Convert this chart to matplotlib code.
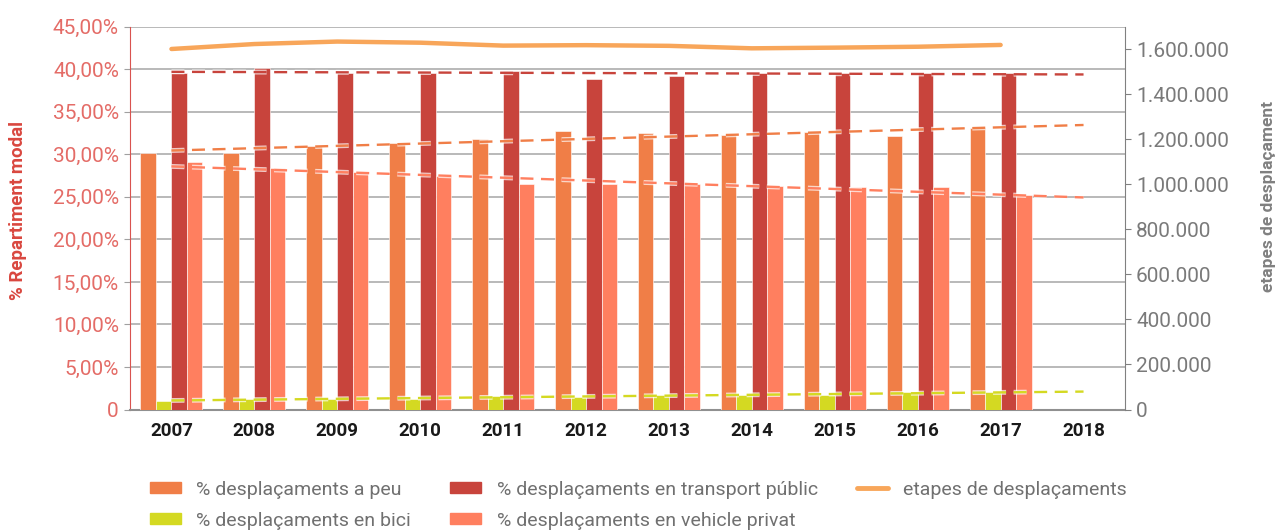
import numpy as np
import matplotlib
matplotlib.use("Agg")
import matplotlib.pyplot as plt
import matplotlib.patheffects as pe
from matplotlib.ticker import FuncFormatter
from matplotlib.patches import Patch
from matplotlib.lines import Line2D

plt.rcParams['font.family'] = ['Roboto', 'DejaVu Sans']

years = ['2007', '2008', '2009', '2010', '2011', '2012', '2013', '2014', '2015', '2016', '2017', '2018']
peu = [30.2, 30.2, 31.0, 31.3, 31.8, 32.7, 32.5, 32.3, 32.6, 32.2, 33.1]
bici = [1.0, 1.25, 1.25, 1.2, 1.6, 1.5, 1.7, 1.7, 1.7, 2.0, 2.0]
public = [39.6, 40.1, 39.6, 39.6, 39.8, 38.9, 39.2, 39.6, 39.6, 39.6, 39.5]
privat = [29.1, 28.4, 27.9, 27.5, 26.5, 26.5, 26.5, 26.3, 26.1, 26.1, 25.2]
etapes = [1601000, 1623000, 1634000, 1629000, 1616000, 1618000, 1615000,
          1604000, 1607000, 1611000, 1619000]

labels = ['% desplaçaments a peu', '% desplaçaments en bici',
          '% desplaçaments en transport públic', '% desplaçaments en vehicle privat',
          'etapes de desplaçaments']
c_peu, c_bici, c_pub, c_priv, c_line = '#F07E47', '#D4D922', '#C8443C', '#FF7F5F', '#F8A65A'

fig = plt.figure(figsize=(12.79, 5.31), dpi=100)
ax = fig.add_axes([130/1279, 1-409.5/531, 995/1279, 382.8/531])
ax2 = ax.twinx()

x = np.arange(len(years))
n = len(peu)
xd = x[:n]
w = 0.187
offs = [-1.5, -0.5, 0.5, 1.5]
for series, col, o in zip([peu, bici, public, privat], [c_peu, c_bici, c_pub, c_priv], offs):
    ax.bar(xd + o*w, series, width=w, color=col, edgecolor='#FFFFFF', linewidth=0.4, zorder=3)

# linear trendlines extended to 2018
glow = [pe.Stroke(linewidth=3.5, foreground='white', alpha=0.7), pe.Normal()]
for series, col in zip([public, peu, privat, bici], [c_pub, c_peu, c_priv, c_bici]):
    k, b = np.polyfit(xd, series, 1)
    xs = np.array([x[0], x[-1]])
    ax.plot(xs, k*xs + b, color=col, lw=1.7, linestyle=(0, (5.5, 3.2)), zorder=4,
            path_effects=glow, dash_capstyle='butt')

ax2.plot(xd, etapes, color=c_line, lw=3.2, solid_capstyle='round', solid_joinstyle='round', zorder=5)

ax.set_xlim(-0.5, len(years)-0.5)
ax.set_ylim(0, 45)
ax.set_yticks(np.arange(0, 46, 5))
ax.yaxis.set_major_formatter(FuncFormatter(lambda v, p: '0' if v == 0 else f'{v:.2f}%'.replace('.', ',')))
ax2.set_ylim(0, 1700000)
ax2.set_yticks(np.arange(0, 1600001, 200000))
ax2.yaxis.set_major_formatter(FuncFormatter(lambda v, p: '0' if v == 0 else f'{int(v):,}'.replace(',', '.')))

ax.grid(axis='y', color='#A6A6A6', lw=1.1, zorder=0)
ax.set_axisbelow(True)
ax.set_xticks(x)
ax.set_xticklabels(years, fontsize=13.5, fontweight='bold', color='#1A1A1A')
ax.tick_params(axis='x', length=0, pad=9)
ax.tick_params(axis='y', labelcolor='#E46C67', labelsize=15, length=4, width=0.8, pad=4, color='#A0A0A0')
ax2.tick_params(axis='y', labelcolor='#7A7A7A', labelsize=15, length=4, width=0.8, color='#808080', pad=4)

for s in ['top']:
    ax.spines[s].set_visible(False)
    ax2.spines[s].set_visible(False)
ax.spines['left'].set_color('#D9534F')
ax2.spines['left'].set_visible(False)
ax2.spines['right'].set_color('#808080')
ax.spines['right'].set_visible(False)
ax2.spines['bottom'].set_visible(False)
ax.spines['bottom'].set_color('#909090')
ax.spines['bottom'].set_linewidth(1.5)

fig.text(18/1279, 1-210/531, '% Repartiment modal', rotation=90, ha='center', va='center',
         fontsize=13.5, fontweight='bold', color='#D9473F')
fig.text(1268/1279, 1-196/531, 'etapes de desplaçament', rotation=90, ha='center', va='center',
         fontsize=12.5, fontweight='bold', color='#808080')

handles = [Patch(color=c_peu), Patch(color=c_bici), Patch(color=c_pub), Patch(color=c_priv),
           Line2D([], [], color=c_line, lw=3.5, solid_capstyle='round')]
leg = fig.legend(handles, labels, ncol=3, loc='upper left', bbox_to_anchor=(136/1279, 1-467/531),
                 frameon=False, fontsize=14, handlelength=1.6, handleheight=0.5,
                 handletextpad=0.8, columnspacing=2.0, labelspacing=0.68, labelcolor='#707070',
                 borderpad=0.2)

fig.savefig('out.png', dpi=100)
